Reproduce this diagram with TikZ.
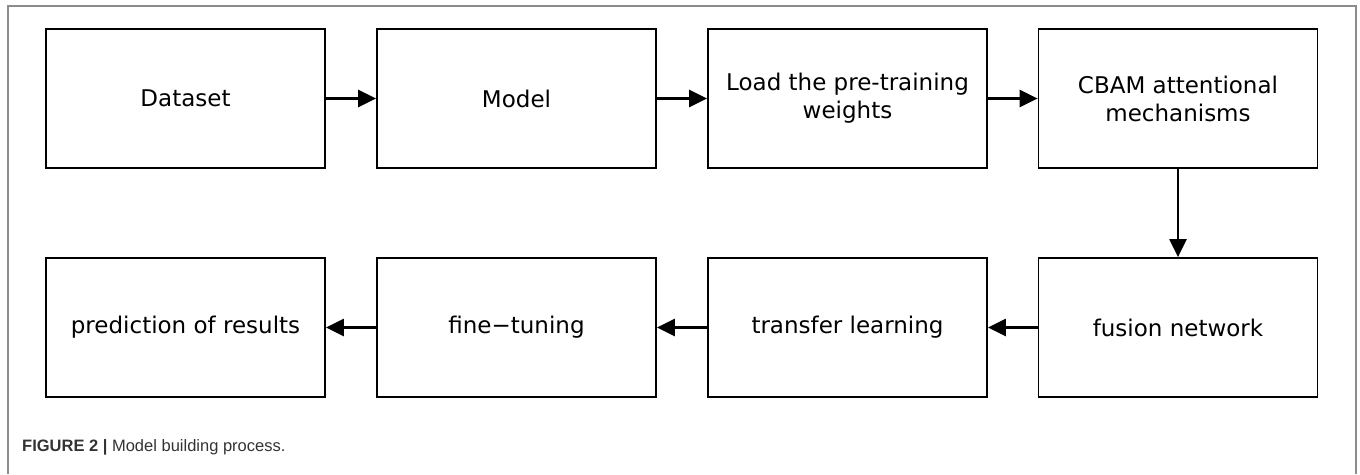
\documentclass[tikz,border=0pt]{standalone}
\usepackage{fontspec}
\setmainfont{DejaVu Sans}
\newfontfamily\captfont{Liberation Sans}
\usetikzlibrary{arrows.meta}
\definecolor{framegray}{HTML}{8C8C8C}
\definecolor{captgray}{HTML}{333333}
\tikzset{
  stepbox/.style={draw=black, line width=1.8pt, minimum width=279pt, minimum height=139pt,
    inner sep=0pt, align=center, font=\fontsize{23}{28}\selectfont},
  flow/.style={line width=2.4pt, -{Triangle[length=18pt,width=17pt]}}
}
\begin{document}
\begin{tikzpicture}[x=1pt,y=-1pt]
\useasboundingbox (0,0) rectangle (1360,474);
\draw[framegray, line width=1.3pt] (8,474) -- (8,6) -- (1356,6) -- (1356,474);
\node[stepbox] (a) at (185.5,98.5) {Dataset};
\node[stepbox] (b) at (516.5,98.5) {Model};
\node[stepbox] (c) at (847.5,98.5) {Load the pre-training\\weights};
\node[stepbox] (d) at (1178,98.5) {CBAM attentional\\mechanisms};
\node[stepbox] (e) at (1178,327.5) {fusion network};
\node[stepbox] (f) at (847.5,327.5) {transfer learning};
\node[stepbox] (g) at (516.5,327.5) {fine−tuning};
\node[stepbox] (h) at (185.5,327.5) {prediction of results};
\draw[flow] (a) -- (b);
\draw[flow] (b) -- (c);
\draw[flow] (c) -- (d);
\draw[flow] (d) -- (e);
\draw[flow] (e) -- (f);
\draw[flow] (f) -- (g);
\draw[flow] (g) -- (h);
\node[anchor=west, inner sep=0pt, font=\captfont\fontsize{16.5}{19}\selectfont, text=captgray] (cap) at (22,447)
  {\textbf{FIGURE 2 |} Model building process.};
\end{tikzpicture}
\end{document}
